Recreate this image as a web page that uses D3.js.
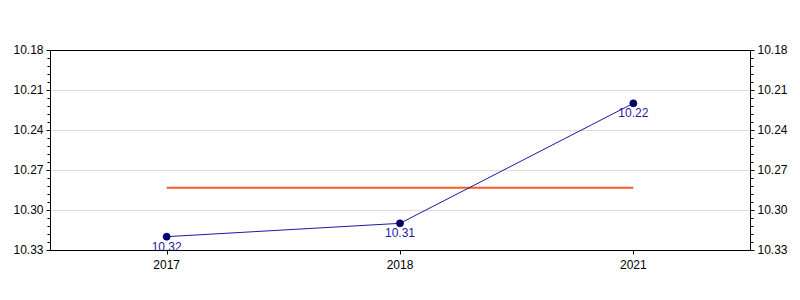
<!DOCTYPE html>
<html>
<head>
<meta charset="utf-8">
<script src="https://cdn.jsdelivr.net/npm/d3@7"></script>
<style>
body { margin: 0; background: #fff; }
text { font-family: "Liberation Sans", Arial, sans-serif; }
</style>
</head>
<body>
<svg width="800" height="300"></svg>
<script>
var years = ["2017", "2018", "2021"];
var values = [10.32, 10.31, 10.22];
var yTicks = [10.18, 10.21, 10.24, 10.27, 10.30, 10.33];

var margin = {top: 50, right: 50, bottom: 50, left: 50},
    w = 800 - margin.left - margin.right,
    h = 300 - margin.top - margin.bottom;

var avg = d3.mean(values);

var svg = d3.select("svg");
var g = svg.append("g")
	.attr("transform", "translate(" + margin.left + "," + margin.top + ")");

var x = d3.scalePoint()
	.domain(years)
	.range([0, w])
	.padding(0.5);

var y = d3.scaleLinear()
	.domain([10.18, 10.33])
	.range([0, h]);

// grid
g.append("g")
	.selectAll("line")
	.data(yTicks.slice(1, -1))
	.join("line")
	.attr("x1", 0)
	.attr("x2", w)
	.attr("y1", function(d){ return Math.round(y(d)) + 0.5; })
	.attr("y2", function(d){ return Math.round(y(d)) + 0.5; })
	.attr("stroke", "#dcdcdc");

// minor ticks
var minor = d3.range(0, 26).map(function(i){ return 10.18 + i * 0.006; });

function drawAxis(xpos, dir) {
	var a = g.append("g").attr("transform", "translate(" + (xpos + 0.5) + ",0)");
	a.append("line").attr("y1", 0).attr("y2", h).attr("stroke", "#000");
	a.selectAll(".mn")
		.data(minor)
		.join("line")
		.attr("y1", function(d){ return Math.round(y(d)) + 0.5; })
		.attr("y2", function(d){ return Math.round(y(d)) + 0.5; })
		.attr("x1", 0)
		.attr("x2", dir * 3)
		.attr("stroke", "#000");
	a.selectAll(".mj")
		.data(yTicks)
		.join("line")
		.attr("y1", function(d){ return Math.round(y(d)) + 0.5; })
		.attr("y2", function(d){ return Math.round(y(d)) + 0.5; })
		.attr("x1", 0)
		.attr("x2", dir * 4)
		.attr("stroke", "#000");
	a.selectAll("text")
		.data(yTicks)
		.join("text")
		.attr("x", dir * 7)
		.attr("y", function(d){ return y(d); })
		.attr("dy", "0.35em")
		.attr("text-anchor", dir < 0 ? "end" : "start")
		.attr("font-size", 12)
		.attr("fill", "#000")
		.text(function(d){ return d3.format(".2f")(d); });
}
drawAxis(0, -1);
drawAxis(w, 1);

// top border
g.append("line")
	.attr("x1", 0).attr("x2", w)
	.attr("y1", 0.5).attr("y2", 0.5)
	.attr("stroke", "#000");

// average line
g.append("line")
	.attr("x1", x(years[0]))
	.attr("x2", x(years[years.length - 1]))
	.attr("y1", y(avg))
	.attr("y2", y(avg))
	.attr("stroke", "#ff5a1f")
	.attr("stroke-width", 2);

// series
var line = d3.line()
	.x(function(d, i){ return x(years[i]); })
	.y(function(d){ return y(d); });

g.append("path")
	.datum(values)
	.attr("d", line)
	.attr("fill", "none")
	.attr("stroke", "#1a1aa6")
	.attr("stroke-width", 1);

g.selectAll("circle")
	.data(values)
	.join("circle")
	.attr("cx", function(d, i){ return x(years[i]); })
	.attr("cy", function(d){ return y(d); })
	.attr("r", 3.5)
	.attr("fill", "#000080")
	.attr("stroke", "#000030")
	.attr("stroke-width", 0.8);

g.selectAll(".lbl")
	.data(values)
	.join("text")
	.attr("class", "lbl")
	.attr("x", function(d, i){ return x(years[i]); })
	.attr("y", function(d){ return y(d) + 14; })
	.attr("text-anchor", "middle")
	.attr("font-size", 12)
	.attr("fill", "#1c1c9c")
	.text(function(d){ return d3.format(".2f")(d); });

// x axis (drawn over the labels)
var xAxis = g.append("g")
	.attr("transform", "translate(0," + (h + 0.5) + ")");
xAxis.append("line").attr("x1", 0).attr("x2", w).attr("stroke", "#000");
xAxis.selectAll("line.t")
	.data(years)
	.join("line")
	.attr("class", "t")
	.attr("x1", function(d){ return Math.round(x(d)) + 0.5; })
	.attr("x2", function(d){ return Math.round(x(d)) + 0.5; })
	.attr("y1", 0)
	.attr("y2", 4)
	.attr("stroke", "#000");
xAxis.selectAll("text")
	.data(years)
	.join("text")
	.attr("x", function(d){ return x(d); })
	.attr("y", 18)
	.attr("text-anchor", "middle")
	.attr("font-size", 12)
	.attr("fill", "#000")
	.text(function(d){ return d; });
</script>
</body>
</html>
